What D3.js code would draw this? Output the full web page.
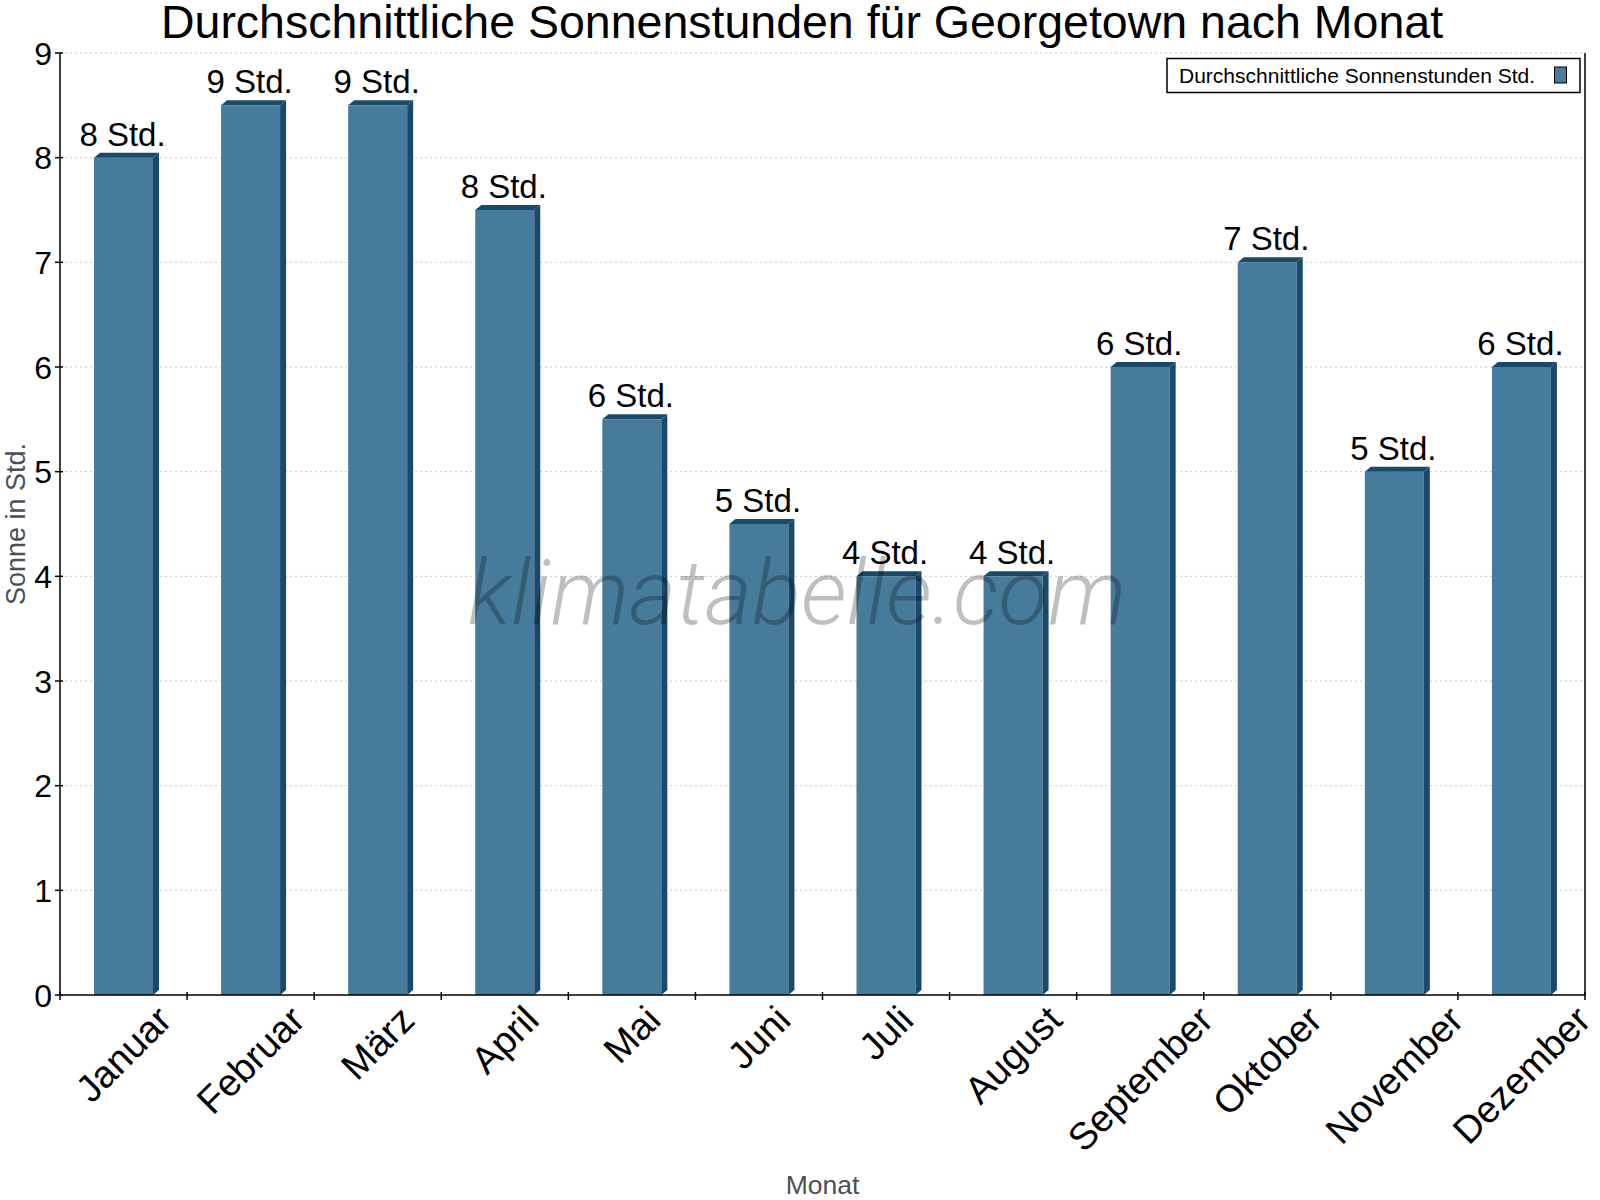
<!DOCTYPE html>
<html>
<head>
<meta charset="utf-8">
<script src="https://cdn.jsdelivr.net/npm/d3@7"></script>
<style>
  body { margin: 0; background: #fff; }
  svg { display: block; font-family: Arial, "Liberation Sans", sans-serif; }
</style>
</head>
<body>
<script>
// Daten
var monate = ["Januar", "Februar", "März", "April", "Mai", "Juni", "Juli", "August", "September", "Oktober", "November", "Dezember"];
var sonnenstunden = [8, 8.5, 8.5, 7.5, 5.5, 4.5, 4, 4, 6, 7, 5, 6];
var yTicks = [0, 1, 2, 3, 4, 5, 6, 7, 8, 9];

var breite = 1600, hoehe = 1200;
var links = 60, rechts = 1585, oben = 53, unten = 995;

var svg = d3.select("body").append("svg")
    .attr("width", breite)
    .attr("height", hoehe);

var x = d3.scaleBand().domain(monate).range([links, rechts]).padding(0);
var y = d3.scaleLinear().domain([0, 9]).range([unten, oben]);

// Gitterlinien
svg.append("g").selectAll("line")
   .data(yTicks.filter(function(d) { return d > 0; }))
   .enter().append("line")
   .attr("x1", links).attr("x2", rechts)
   .attr("y1", function(d) { return y(d); })
   .attr("y2", function(d) { return y(d); })
   .attr("stroke", "#c8c8c8")
   .attr("stroke-dasharray", "2,3");

// Balken mit 3D-Effekt
var tiefeX = 6, tiefeY = 5;
var balken = svg.append("g").selectAll("g")
    .data(sonnenstunden)
    .enter().append("g");

balken.each(function(d, i) {
    var g = d3.select(this);
    var x1 = x(monate[i]) + 34;
    var x2 = x1 + 59;
    var top = y(d);
    g.append("rect")
     .attr("x", x1).attr("y", top)
     .attr("width", x2 - x1).attr("height", unten - top)
     .attr("fill", "#467b9c");
    g.append("path")
     .attr("d", "M" + x2 + "," + top + " L" + (x2 + tiefeX) + "," + (top - tiefeY) +
                " L" + (x2 + tiefeX) + "," + (unten - tiefeY) + " L" + x2 + "," + unten + " Z")
     .attr("fill", "#1a4a6b");
    g.append("path")
     .attr("d", "M" + x1 + "," + top + " L" + (x1 + tiefeX) + "," + (top - tiefeY) +
                " L" + (x2 + tiefeX) + "," + (top - tiefeY) + " L" + x2 + "," + top + " Z")
     .attr("fill", "#1a4a6b");
});

// Wertebeschriftung
svg.append("g").selectAll("text")
   .data(sonnenstunden)
   .enter().append("text")
   .attr("x", function(d, i) { return x(monate[i]) + x.bandwidth() / 2 - 1; })
   .attr("y", function(d) { return y(d) - 12; })
   .attr("text-anchor", "middle")
   .attr("font-size", "33px")
   .attr("fill", "#000")
   .text(function(d) { return Math.round(d) + " Std."; });

// Achsen
svg.append("line")
   .attr("x1", links).attr("x2", links)
   .attr("y1", oben).attr("y2", unten)
   .attr("stroke", "#000").attr("stroke-width", 1.5);
svg.append("line")
   .attr("x1", rechts).attr("x2", rechts)
   .attr("y1", oben).attr("y2", unten)
   .attr("stroke", "#000").attr("stroke-width", 1.5);
svg.append("line")
   .attr("x1", links).attr("x2", rechts)
   .attr("y1", unten).attr("y2", unten)
   .attr("stroke", "#000").attr("stroke-width", 1.5);

// Y-Ticks
var yAchse = svg.append("g");
yAchse.selectAll("line")
   .data(yTicks)
   .enter().append("line")
   .attr("x1", links - 5).attr("x2", links + 3)
   .attr("y1", function(d) { return y(d); })
   .attr("y2", function(d) { return y(d); })
   .attr("stroke", "#000").attr("stroke-width", 1.5);
yAchse.selectAll("text")
   .data(yTicks)
   .enter().append("text")
   .attr("x", links - 8)
   .attr("y", function(d) { return y(d) + 11.5; })
   .attr("text-anchor", "end")
   .attr("font-size", "32px")
   .text(function(d) { return d; });

// X-Ticks an den Kategoriegrenzen
var grenzen = monate.map(function(m) { return x(m); }).concat([rechts]);
svg.append("g").selectAll("line")
   .data(grenzen)
   .enter().append("line")
   .attr("x1", function(d) { return d; }).attr("x2", function(d) { return d; })
   .attr("y1", unten - 3).attr("y2", unten + 5)
   .attr("stroke", "#000").attr("stroke-width", 1.5);

// X-Beschriftung, um 45 Grad gedreht und auf Bandmitte zentriert
var xGroesse = 38;
var xLabels = svg.append("g").selectAll("text")
   .data(monate)
   .enter().append("text")
   .attr("text-anchor", "middle")
   .attr("dominant-baseline", "central")
   .attr("font-size", xGroesse + "px")
   .text(function(d) { return d; });

xLabels.each(function(d) {
    var len = this.getComputedTextLength();
    var h = xGroesse * 0.75;
    var cx = x(d) + x.bandwidth() / 2;
    var cy = 1003 + 0.7071 * (len + h) / 2;
    d3.select(this)
      .attr("x", cx).attr("y", cy)
      .attr("transform", "rotate(-45," + cx + "," + cy + ")");
});

// Achsentitel
svg.append("text")
   .attr("x", (links + rechts) / 2)
   .attr("y", 1194)
   .attr("text-anchor", "middle")
   .attr("font-size", "26.5px")
   .attr("fill", "#4a5058")
   .text("Monat");

svg.append("text")
   .attr("transform", "translate(25," + ((oben + unten) / 2) + ") rotate(-90)")
   .attr("text-anchor", "middle")
   .attr("font-size", "27px")
   .attr("fill", "#4a5058")
   .text("Sonne in Std.");

// Titel
svg.append("text")
   .attr("x", 802)
   .attr("y", 38)
   .attr("text-anchor", "middle")
   .attr("font-size", "46.5px")
   .attr("fill", "#000")
   .text("Durchschnittliche Sonnenstunden für Georgetown nach Monat");

// Legende
var legende = svg.append("g");
legende.append("rect")
   .attr("x", 1167).attr("y", 58.5)
   .attr("width", 413).attr("height", 34)
   .attr("fill", "#fff").attr("stroke", "#000").attr("stroke-width", 1.5);
legende.append("text")
   .attr("x", 1179).attr("y", 83)
   .attr("font-size", "21px")
   .text("Durchschnittliche Sonnenstunden Std.");
legende.append("rect")
   .attr("x", 1554.5).attr("y", 67)
   .attr("width", 12).attr("height", 16)
   .attr("fill", "#467b9c").attr("stroke", "#000").attr("stroke-width", 1);

// Wasserzeichen
svg.append("text")
   .attr("x", 797)
   .attr("y", 624)
   .attr("text-anchor", "middle")
   .attr("font-family", "Roboto, sans-serif")
   .attr("font-weight", 300)
   .attr("font-style", "italic")
   .attr("font-size", "91px")
   .attr("fill", "#000")
   .attr("fill-opacity", 0.25)
   .text("klimatabelle.com");
</script>
</body>
</html>
